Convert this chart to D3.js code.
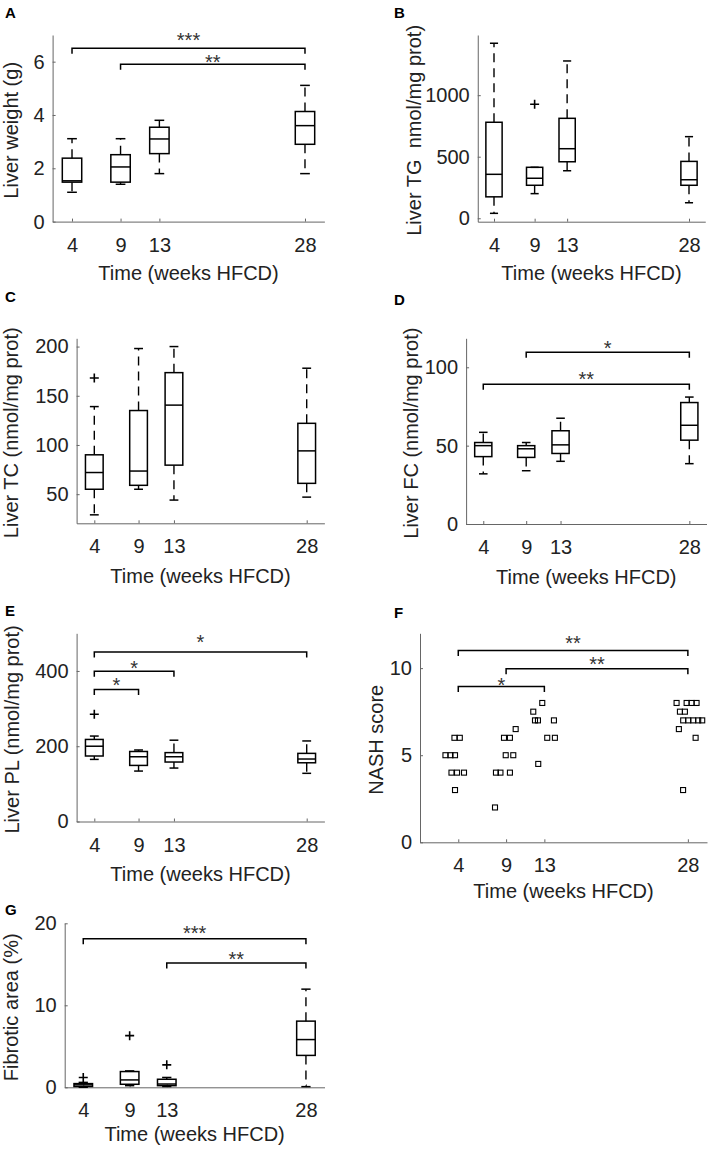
<!DOCTYPE html>
<html>
<head>
<meta charset="utf-8">
<script src="https://cdn.jsdelivr.net/npm/d3@7"></script>
<style>
  body { margin: 0; background: #fff; }
  svg { display: block; font-family: "Liberation Sans", Arial, Helvetica, sans-serif; }
</style>
</head>
<body>
<svg id="fig" width="709" height="1151"></svg>
<script>
// time points (weeks on HFCD)
var weeks = [4, 9, 13, 28];

// box stats per week: [lower whisker, q1, median, q3, upper whisker]
var liverWeight = [[1.10, 1.48, 1.53, 2.38, 3.11], [1.40, 1.48, 2.05, 2.51, 3.11],
                   [1.80, 2.55, 3.10, 3.54, 3.80], [1.80, 2.90, 3.60, 4.13, 5.11]];
var liverWeightOut = [[], [], [], []];

var liverTG = [[40, 174, 357, 780, 1422], [200, 268, 325, 414, 414],
               [386, 459, 565, 812, 1278], [126, 268, 313, 462, 663]];
var liverTGOut = [[], [926], [], []];

var liverTC = [[29, 55, 72, 90, 139], [55, 59, 73.5, 135, 198],
               [44, 79.5, 140.5, 173.5, 200], [47, 61, 94, 122, 178]];
var liverTCOut = [[168], [], [], []];

var liverFC = [[32, 43, 50, 52, 58.5], [34, 42.5, 48, 50, 52],
               [40, 45, 50.5, 59.5, 67.5], [38.5, 53.5, 63, 77.5, 81]];
var liverFCOut = [[], [], [], []];

var liverPL = [[165, 174, 200, 218, 227], [134, 149, 172, 186, 190],
               [142, 158, 172, 183, 216], [128, 156, 166, 181, 214]];
var liverPLOut = [[285], [], [], []];

var fibrotic = [[0, 0.1, 0.3, 0.45, 0.6], [0.2, 0.37, 0.9, 1.92, 2.0],
                [0.1, 0.2, 0.4, 0.98, 1.2], [0.08, 3.89, 5.82, 8.07, 11.97]];
var fibroticOut = [[1.2], [6.3], [2.74], []];

// NASH score per animal, x is the jittered week
var nashWeek = [3.6, 4.16, 2.66, 3.19, 3.66, 3.29, 3.87, 4.6, 3.66,
                10.0, 8.78, 9.4, 8.96, 9.75, 7.94, 8.41, 9.4, 7.84,
                12.78, 11.84, 12.02, 12.33, 14.0, 13.3, 14.1, 12.36,
                26.82, 27.87, 28.39, 28.91, 27.17, 27.69, 27.51, 28.04, 28.56, 29.08, 29.5, 27.06, 28.81, 27.5];
var nashScore = [6, 6, 5, 5, 5, 4, 4, 4, 3,
                 6.5, 6, 6, 5, 5, 4, 4, 4, 2,
                 8, 7.5, 7, 7, 7, 6, 6, 4.5,
                 8, 8, 8, 8, 7.5, 7.5, 7, 7, 7, 7, 7, 6.5, 6, 3];

// significance: [from week, to week, bracket level, star level, label]
var liverWeightSig = [[4, 28, 6.5, 7.0, '***'], [9, 28, 5.9, 6.15, '**']];
var liverFCSig = [[9, 28, 109.6, 115.3, '*'], [4, 28, 89.2, 95.1, '**']];
var liverPLSig = [[4, 28, 450.5, 490, '*'], [4, 13, 399.2, 421, '*'], [4, 9, 350.6, 373.4, '*']];
var nashSig = [[4, 28, 11.01, 11.68, '**'], [9, 28, 9.97, 10.48, '**'], [4, 13, 8.95, 9.3, '*']];
var fibroticSig = [[4, 28, 18.12, 19.35, '***'], [13, 28, 15.17, 16.15, '**']];

var xTitle = 'Time (weeks HFCD)';

var panels = [
  { letter: 'A', lx: 5, ly: 17.5, left: 52.6, right: 324.4, top: 35, bottom: 221.6,
    xDomain: [2, 30], yDomain: [0, 7], yTicks: [0, 2, 4, 6], ylabel: 'Liver weight (g)', ylabelX: 18,
    box: liverWeight, out: liverWeightOut, sig: liverWeightSig, xlabOff: 58 },
  { letter: 'B', lx: 394, ly: 17.5, left: 477.75, right: 705.25, top: 35, bottom: 221.7,
    xDomain: [2, 30], yDomain: [-28, 1489], yTicks: [0, 500, 1000], ylabel: 'Liver TG  nmol/mg prot)', ylabelX: 421,
    box: liverTG, out: liverTGOut, sig: [], xlabOff: 58.3 },
  { letter: 'C', lx: 5, ly: 302, left: 76.6, right: 324.4, top: 338.3, bottom: 523.3,
    xDomain: [2, 30], yDomain: [20.4, 208.4], yTicks: [50, 100, 150, 200], ylabel: 'Liver TC (nmol/mg prot)', ylabelX: 18,
    box: liverTC, out: liverTCOut, sig: [], xlabOff: 60 },
  { letter: 'D', lx: 394, ly: 305, left: 466.1, right: 706.5, top: 338.3, bottom: 524,
    xDomain: [2, 30], yDomain: [0, 118.5], yTicks: [0, 50, 100], ylabel: 'Liver FC (nmol/mg prot)', ylabelX: 418,
    box: liverFC, out: liverFCOut, sig: liverFCSig, xlabOff: 60 },
  { letter: 'E', lx: 5, ly: 616, left: 76.6, right: 324.4, top: 633.3, bottom: 821.5,
    xDomain: [2, 30], yDomain: [0, 500], yTicks: [0, 200, 400], ylabel: 'Liver PL (nmol/mg prot)', ylabelX: 19,
    box: liverPL, out: liverPLOut, sig: liverPLSig, xlabOff: 59.5 },
  { letter: 'F', lx: 394, ly: 618, left: 420, right: 707, top: 633.3, bottom: 842.3,
    xDomain: [0, 30], yDomain: [0, 12], yTicks: [0, 5, 10], ylabel: 'NASH score', ylabelX: 383,
    scatter: true, sig: nashSig, xlabOff: 56 },
  { letter: 'G', lx: 5, ly: 915, left: 64.7, right: 324.5, top: 923.3, bottom: 1087.3,
    xDomain: [2, 30], yDomain: [0, 20], yTicks: [0, 10, 20], ylabel: 'Fibrotic area (%)', ylabelX: 18,
    box: fibrotic, out: fibroticOut, sig: fibroticSig, xlabOff: 53.4 }
];

var svg = d3.select('#fig');
var fontSize = 20;
var axisColor = '#666';
var textColor = '#222';

function drawPanel(p) {
  var x = d3.scaleLinear().domain(p.xDomain).range([p.left, p.right]);
  var y = d3.scaleLinear().domain(p.yDomain).range([p.bottom, p.top]);
  var g = svg.append('g');

  // axes (ticks pointing inward, like matlab)
  var xa = g.append('g')
    .attr('transform', 'translate(0,' + p.bottom + ')')
    .call(d3.axisBottom(x).tickValues(weeks).tickFormat(d3.format('d'))
      .tickSizeInner(-3).tickSizeOuter(0).tickPadding(15.8));
  var ya = g.append('g')
    .attr('transform', 'translate(' + p.left + ',0)')
    .call(d3.axisLeft(y).tickValues(p.yTicks).tickFormat(d3.format('d'))
      .tickSizeInner(-3).tickSizeOuter(0).tickPadding(8));
  [xa, ya].forEach(function (a) {
    a.select('.domain').attr('stroke', axisColor).attr('stroke-width', 1);
    a.selectAll('.tick line').attr('stroke', axisColor);
    a.selectAll('.tick text').attr('fill', textColor)
      .style('font-size', fontSize + 'px').style('font-family', null);
  });
  xa.attr('font-family', null);
  ya.attr('font-family', null);

  // axis titles
  g.append('text')
    .attr('x', (p.left + p.right) / 2)
    .attr('y', p.bottom + p.xlabOff)
    .attr('text-anchor', 'middle')
    .attr('fill', textColor)
    .style('font-size', fontSize + 'px')
    .text(xTitle);

  g.append('text')
    .attr('transform', 'translate(' + p.ylabelX + ',' + ((p.top + p.bottom) / 2 + 2) + ') rotate(-90)')
    .attr('text-anchor', 'middle')
    .attr('fill', textColor)
    .style('font-size', fontSize + 'px')
    .style('white-space', 'pre')
    .text(p.ylabel);

  // panel letter
  g.append('text')
    .attr('x', p.lx).attr('y', p.ly)
    .attr('font-weight', 'bold')
    .style('font-size', '15px')
    .text(p.letter);

  if (p.box) {
    var groups = g.selectAll('.grp').data(p.box).join('g').attr('class', 'grp');
    var xc = function (d, i) { return x(weeks[i]); };

    // whiskers, dashed from the box edge out
    groups.append('line')
      .attr('x1', xc).attr('x2', xc)
      .attr('y1', function (d) { return y(d[3]); })
      .attr('y2', function (d) { return y(d[4]); });
    groups.append('line')
      .attr('x1', xc).attr('x2', xc)
      .attr('y1', function (d) { return y(d[1]); })
      .attr('y2', function (d) { return y(d[0]); });
    groups.selectAll('line')
      .attr('stroke', '#000').attr('stroke-width', 1.4).attr('stroke-dasharray', '9,6');

    // caps
    [0, 4].forEach(function (k) {
      groups.append('line')
        .attr('x1', function (d, i) { return x(weeks[i] - 0.5); })
        .attr('x2', function (d, i) { return x(weeks[i] + 0.5); })
        .attr('y1', function (d) { return y(d[k]); })
        .attr('y2', function (d) { return y(d[k]); })
        .attr('stroke', '#000').attr('stroke-width', 1.5);
    });

    groups.append('rect')
      .attr('x', function (d, i) { return x(weeks[i] - 1); })
      .attr('width', function (d, i) { return x(weeks[i] + 1) - x(weeks[i] - 1); })
      .attr('y', function (d) { return y(d[3]); })
      .attr('height', function (d) { return y(d[1]) - y(d[3]); })
      .attr('fill', 'none').attr('stroke', '#000').attr('stroke-width', 1.5);

    groups.append('line')
      .attr('x1', function (d, i) { return x(weeks[i] - 1); })
      .attr('x2', function (d, i) { return x(weeks[i] + 1); })
      .attr('y1', function (d) { return y(d[2]); })
      .attr('y2', function (d) { return y(d[2]); })
      .attr('stroke', '#000').attr('stroke-width', 1.5);

    // outliers as '+'
    var outPts = [];
    p.out.forEach(function (vals, i) {
      vals.forEach(function (v) { outPts.push([weeks[i], v]); });
    });
    g.selectAll('.out').data(outPts).join('path')
      .attr('class', 'out')
      .attr('transform', function (d) { return 'translate(' + x(d[0]) + ',' + y(d[1]) + ')'; })
      .attr('d', 'M-4.5,0H4.5M0,-4.5V4.5')
      .attr('stroke', '#000').attr('stroke-width', 1.6);
  }

  if (p.scatter) {
    g.selectAll('.pt').data(nashScore).join('rect')
      .attr('class', 'pt')
      .attr('x', function (d, i) { return x(nashWeek[i]) - 2.5; })
      .attr('y', function (d) { return y(d) - 2.5; })
      .attr('width', 5).attr('height', 5)
      .attr('fill', 'none').attr('stroke', '#000').attr('stroke-width', 1.1);
  }

  // significance brackets
  g.selectAll('.sig').data(p.sig).join('path')
    .attr('class', 'sig')
    .attr('d', function (d) {
      var yy = y(d[2]);
      return 'M' + x(d[0]) + ',' + (yy + 5.5) + 'V' + yy + 'H' + x(d[1]) + 'V' + (yy + 5.5);
    })
    .attr('fill', 'none').attr('stroke', '#000').attr('stroke-width', 1.5);

  g.selectAll('.star').data(p.sig).join('text')
    .attr('class', 'star')
    .attr('x', function (d) { return (x(d[0]) + x(d[1])) / 2; })
    .attr('y', function (d) { return y(d[3]) + 11.5; })
    .attr('text-anchor', 'middle')
    .attr('fill', '#333')
    .style('font-size', fontSize + 'px')
    .text(function (d) { return d[4]; });
}

panels.forEach(drawPanel);
</script>
</body>
</html>
